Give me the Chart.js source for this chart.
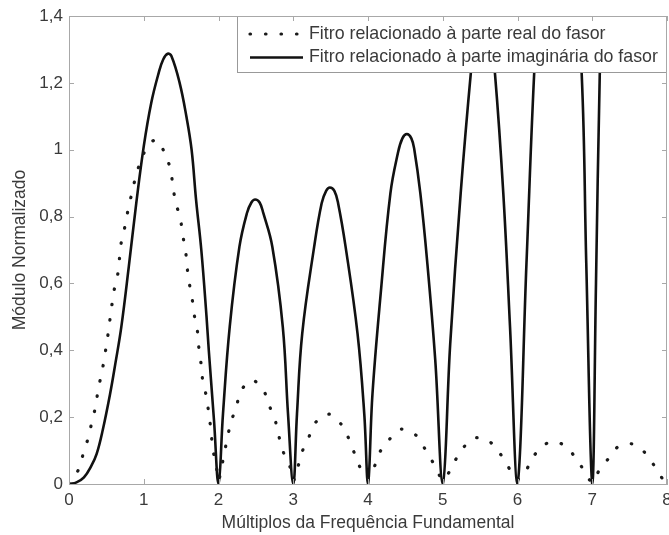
<!DOCTYPE html>
<html>
<head>
<meta charset="utf-8">
<script src="https://cdn.jsdelivr.net/npm/chart.js@4.4.1/dist/chart.umd.min.js"></script>
<style>
  html, body { margin: 0; padding: 0; background: #fff; }
  #wrap { width: 669px; height: 535px; position: relative; }
</style>
</head>
<body>
<div id="wrap"><canvas id="chart" width="669" height="535"></canvas></div>
<script>
// ── Data ──────────────────────────────────────────────────────────────────────
const realLabel = "Fitro relacionado à parte real do fasor";
const imagLabel = "Fitro relacionado à parte imaginária do fasor";

const realX = [0, 0.07, 0.14, 0.19, 0.26, 0.31, 0.36, 0.39, 0.44, 0.51, 0.54, 0.57, 0.60, 0.65, 0.70,
  0.75, 0.79, 0.84, 0.89, 0.95, 1.05, 1.17, 1.28, 1.36, 1.39, 1.43, 1.49, 1.52, 1.56, 1.58, 1.61,
  1.65, 1.68, 1.72, 1.74, 1.77, 1.79, 1.84, 1.87, 1.90, 1.92, 1.97, 2.0,
  2.04, 2.08, 2.12, 2.17, 2.24, 2.30, 2.45, 2.60, 2.68, 2.76, 2.81, 2.87, 2.96, 3.0,
  3.06, 3.12, 3.21, 3.31, 3.48, 3.64, 3.74, 3.82, 3.90, 4.0,
  4.08, 4.16, 4.28, 4.44, 4.64, 4.76, 4.87, 4.97, 5.0,
  5.07, 5.15, 5.26, 5.41, 5.60, 5.75, 5.87, 5.98,
  6.08, 6.18, 6.30, 6.46, 6.64, 6.78, 6.90, 7.0,
  7.10, 7.24, 7.36, 7.56, 7.72, 7.84, 7.96, 8.0];
const realY = [0, 0.02, 0.05, 0.09, 0.14, 0.19, 0.236, 0.284, 0.334, 0.429, 0.479, 0.529, 0.576, 0.624, 0.724,
  0.772, 0.82, 0.869, 0.917, 0.96, 1.01, 1.03, 0.99, 0.939, 0.89, 0.84, 0.794, 0.746, 0.697, 0.649, 0.60,
  0.55, 0.50, 0.454, 0.40, 0.354, 0.307, 0.26, 0.21, 0.16, 0.109, 0.055, 0.01,
  0.05, 0.094, 0.14, 0.187, 0.232, 0.279, 0.311, 0.281, 0.234, 0.189, 0.141, 0.094, 0.049, 0.01,
  0.049, 0.097, 0.141, 0.187, 0.209, 0.179, 0.137, 0.091, 0.047, 0.015,
  0.049, 0.096, 0.132, 0.164, 0.146, 0.106, 0.064, 0.02, 0.012,
  0.03, 0.064, 0.104, 0.137, 0.131, 0.096, 0.054, 0.014,
  0.026, 0.069, 0.107, 0.127, 0.114, 0.077, 0.037, 0.005,
  0.044, 0.082, 0.114, 0.119, 0.09, 0.051, 0.009, 0.0];

const imagX = [0, 0.1, 0.2, 0.3, 0.37, 0.45, 0.55, 0.62, 0.70, 0.80, 0.90, 1.0, 1.1, 1.2, 1.26, 1.32,
  1.37, 1.48, 1.57, 1.64, 1.70, 1.77, 1.84, 1.87, 1.94, 2.0,
  2.06, 2.15, 2.28, 2.38, 2.44, 2.49, 2.55, 2.60, 2.72, 2.86, 2.93, 3.0,
  3.05, 3.12, 3.28, 3.38, 3.44, 3.49, 3.55, 3.60, 3.70, 3.86, 3.95, 4.0,
  4.06, 4.17, 4.30, 4.40, 4.46, 4.52, 4.58, 4.62, 4.70, 4.79, 4.90, 5.0,
  5.10, 5.24, 5.38, 5.54, 5.70, 5.81, 5.90, 6.0,
  6.12, 6.23, 6.55, 6.86, 6.92, 7.0,
  7.05, 7.10, 7.5, 8.0];
const imagY = [0, 0.005, 0.02, 0.055, 0.09, 0.16, 0.27, 0.36, 0.47, 0.65, 0.84, 1.01, 1.14, 1.23, 1.27, 1.287,
  1.28, 1.20, 1.10, 1.0, 0.85, 0.70, 0.50, 0.40, 0.19, 0,
  0.21, 0.47, 0.71, 0.81, 0.842, 0.851, 0.842, 0.81, 0.71, 0.47, 0.21, 0,
  0.21, 0.45, 0.71, 0.84, 0.877, 0.887, 0.877, 0.84, 0.71, 0.45, 0.21, 0,
  0.27, 0.57, 0.87, 0.99, 1.034, 1.047, 1.034, 1.0, 0.87, 0.67, 0.37, 0,
  0.42, 0.87, 1.24, 1.6, 1.224, 0.87, 0.47, 0,
  0.66, 1.26, 2.6, 1.22, 0.66, 0,
  0.6, 1.22, 5.0, 3.0];

const xTicks = [0, 1, 2, 3, 4, 5, 6, 7, 8];
const yTicks = [0, 0.2, 0.4, 0.6, 0.8, 1, 1.2, 1.4];
const yTickLabels = ["0", "0,2", "0,4", "0,6", "0,8", "1", "1,2", "1,4"];

const xTitle = "Múltiplos da Frequência Fundamental";
const yTitle = "Módulo Normalizado";

// ── Helpers ───────────────────────────────────────────────────────────────────
function toPoints(xs, ys) {
  return xs.map((x, i) => ({ x, y: ys[i] }));
}

const FONT = "'Liberation Sans', Arial, sans-serif";
const AXIS_GRAY = "#a8a8a8";
const TEXT = "#3a3a3a";

// inward ticks + closed box like the original figure
const boxTicks = {
  id: "boxTicks",
  afterDraw(chart) {
    const { ctx, chartArea: a, scales } = chart;
    ctx.save();
    ctx.strokeStyle = AXIS_GRAY;
    ctx.lineWidth = 1;
    ctx.beginPath();
    ctx.moveTo(a.left, a.top + 0.5);
    ctx.lineTo(a.right, a.top + 0.5);
    ctx.moveTo(a.right - 0.5, a.top);
    ctx.lineTo(a.right - 0.5, a.bottom);
    xTicks.forEach(v => {
      const px = Math.round(scales.x.getPixelForValue(v)) + 0.5;
      ctx.moveTo(px, a.bottom);     ctx.lineTo(px, a.bottom - 5);
      ctx.moveTo(px, a.top);        ctx.lineTo(px, a.top + 5);
    });
    yTicks.forEach(v => {
      const py = Math.round(scales.y.getPixelForValue(v)) + 0.5;
      ctx.moveTo(a.left, py);       ctx.lineTo(a.left + 5, py);
      ctx.moveTo(a.right, py);      ctx.lineTo(a.right - 5, py);
    });
    ctx.stroke();
    ctx.restore();
  }
};

// boxed legend sitting over the plot, top right
const boxLegend = {
  id: "boxLegend",
  afterDatasetsDraw(chart) {
    const { ctx, chartArea: a } = chart;
    const left = 237, top = a.top, right = a.right, bottom = 73;
    ctx.save();
    ctx.fillStyle = "#fff";
    ctx.fillRect(left, top, right - left, bottom - top);
    ctx.strokeStyle = "#999";
    ctx.lineWidth = 1;
    ctx.strokeRect(left + 0.5, top + 0.5, right - left - 1, bottom - top - 1);

    ctx.font = "17.8px " + FONT;
    ctx.fillStyle = TEXT;
    ctx.textBaseline = "middle";
    chart.data.datasets.forEach((ds, i) => {
      const y = top + 18 + i * 23.5;
      ctx.beginPath();
      ctx.strokeStyle = ds.borderColor;
      ctx.lineWidth = ds.borderWidth;
      ctx.lineCap = ds.borderCapStyle || "butt";
      ctx.setLineDash(ds.borderDash || []);
      ctx.moveTo(250, y);
      ctx.lineTo(303, y);
      ctx.stroke();
      ctx.setLineDash([]);
      ctx.fillText(ds.label, 309, y);
    });
    ctx.restore();
  }
};

// ── Chart ─────────────────────────────────────────────────────────────────────
new Chart(document.getElementById("chart"), {
  type: "line",
  data: {
    datasets: [
      {
        label:          realLabel,
        data:           toPoints(realX, realY),
        borderColor:    "#1a1a1a",
        borderWidth:    3.2,
        borderDash:     [0.5, 15],
        borderCapStyle: "round",
        pointRadius:    0,
        tension:        0.3,
        fill:           false
      },
      {
        label:          imagLabel,
        data:           toPoints(imagX, imagY),
        borderColor:    "#111",
        borderWidth:    2.6,
        pointRadius:    0,
        tension:        0.4,
        fill:           false
      }
    ]
  },
  plugins: [boxLegend, boxTicks],
  options: {
    responsive: false,
    animation:  false,
    layout: { padding: { top: 16, right: 2, left: 0, bottom: 0 } },
    plugins: {
      legend:  { display: false },
      tooltip: { enabled: false }
    },
    scales: {
      x: {
        type: "linear",
        min: 0,
        max: 8,
        afterBuildTicks: s => { s.ticks = xTicks.map(v => ({ value: v })); },
        afterFit: s => { s.height = 51; s.paddingLeft = 0; s.paddingRight = 0; },
        ticks: { color: TEXT, font: { family: FONT, size: 17 }, padding: 6, maxRotation: 0 },
        grid:  { display: false, drawTicks: false },
        border: { display: true, color: AXIS_GRAY, width: 1 },
        title: {
          display: true,
          text: xTitle,
          color: TEXT,
          font: { family: FONT, size: 17.5 },
          padding: { top: 0, bottom: 1 }
        }
      },
      y: {
        type: "linear",
        min: 0,
        max: 1.4,
        afterBuildTicks: s => { s.ticks = yTicks.map(v => ({ value: v })); },
        afterFit: s => { s.width = 69; s.paddingTop = 0; s.paddingBottom = 0; },
        ticks: {
          color: TEXT,
          font: { family: FONT, size: 17 },
          padding: 6,
          callback: v => yTickLabels[yTicks.findIndex(t => Math.abs(t - v) < 1e-6)]
        },
        grid:  { display: false, drawTicks: false },
        border: { display: true, color: AXIS_GRAY, width: 1 },
        title: {
          display: true,
          text: yTitle,
          color: TEXT,
          font: { family: FONT, size: 17.5 },
          padding: { top: 10, bottom: 0 }
        }
      }
    }
  }
});
</script>
</body>
</html>
